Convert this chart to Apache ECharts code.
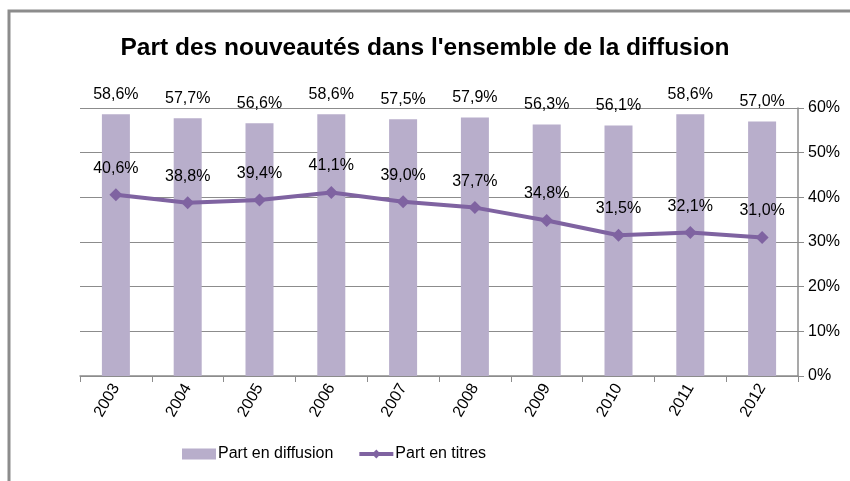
<!DOCTYPE html>
<html><head><meta charset="utf-8">
<script src="https://cdn.jsdelivr.net/npm/echarts@6/dist/echarts.min.js"></script>
<style>html,body{margin:0;padding:0;background:#fff}#c{width:850px;height:481px}</style>
</head><body><div id="c"></div>
<script>
const categories = ['2003','2004','2005','2006','2007','2008','2009','2010','2011','2012'];
const partDiffusion = [58.6,57.7,56.6,58.6,57.5,57.9,56.3,56.1,58.6,57.0];
const partTitres = [40.6,38.8,39.4,41.1,39.0,37.7,34.8,31.5,32.1,31.0];
const yTicks = [0,10,20,30,40,50,60];

const FONT = 'Liberation Sans';
const fmt = v => v.toFixed(1).replace('.', ',') + '%';
const chart = echarts.init(document.getElementById('c'));
chart.setOption({
  animation: false,
  textStyle: {fontFamily: FONT},
  title: {text: "Part des nouveautés dans l'ensemble de la diffusion", left: 'center', top: 31,
    textStyle: {fontFamily: FONT, fontWeight: 'bold', fontSize: 24.5, color: '#000'}},
  graphic: [{type: 'rect', shape: {x: 9, y: 11, width: 900, height: 520}, style: {fill: 'none', stroke: '#8c8c8c', lineWidth: 3}, silent: true}],
  legend: {left: 177, top: 441, itemGap: 24, itemWidth: 34, itemHeight: 11,
    textStyle: {fontFamily: FONT, fontSize: 16, color: '#000', padding: [0,0,0,-3]},
    data: [{name: 'Part en diffusion', icon: 'rect'},
           {name: 'Part en titres', lineStyle: {width: 4, color: '#7f63a1'}, itemStyle: {color: '#7f63a1'}}]},
  grid: {left: 80, right: 52, top: 108, bottom: 105},
  xAxis: {type: 'category', data: categories,
    axisLine: {lineStyle: {color: '#8c8c8c', width: 1.5}},
    axisTick: {show: true, length: 6, lineStyle: {color: '#8c8c8c'}},
    axisLabel: {rotate: 60, color: '#000', fontSize: 16, margin: 9, fontFamily: FONT}},
  yAxis: {type: 'value', position: 'right', min: 0, max: 60, interval: 10,
    axisLine: {show: true, lineStyle: {color: '#8c8c8c', width: 1.5}},
    axisTick: {show: true, length: 6, lineStyle: {color: '#8c8c8c'}},
    splitLine: {lineStyle: {color: '#8c8c8c', width: 1}},
    axisLabel: {color: '#000', fontSize: 16, margin: 10, formatter: v => v + '%', fontFamily: FONT}},
  series: [
    {name: 'Part en diffusion', type: 'bar', data: partDiffusion, barWidth: '39%',
      itemStyle: {color: '#b8aecb'},
      label: {show: true, position: 'top', distance: 12, formatter: p => fmt(p.value), color: '#000', fontSize: 16, fontFamily: FONT}},
    {name: 'Part en titres', type: 'line', data: partTitres, symbol: 'diamond', symbolSize: 13,
      lineStyle: {color: '#7f63a1', width: 4}, itemStyle: {color: '#7f63a1'},
      label: {show: true, position: 'top', distance: 12, formatter: p => fmt(p.value), color: '#000', fontSize: 16, fontFamily: FONT}}
  ]
});
</script></body></html>
